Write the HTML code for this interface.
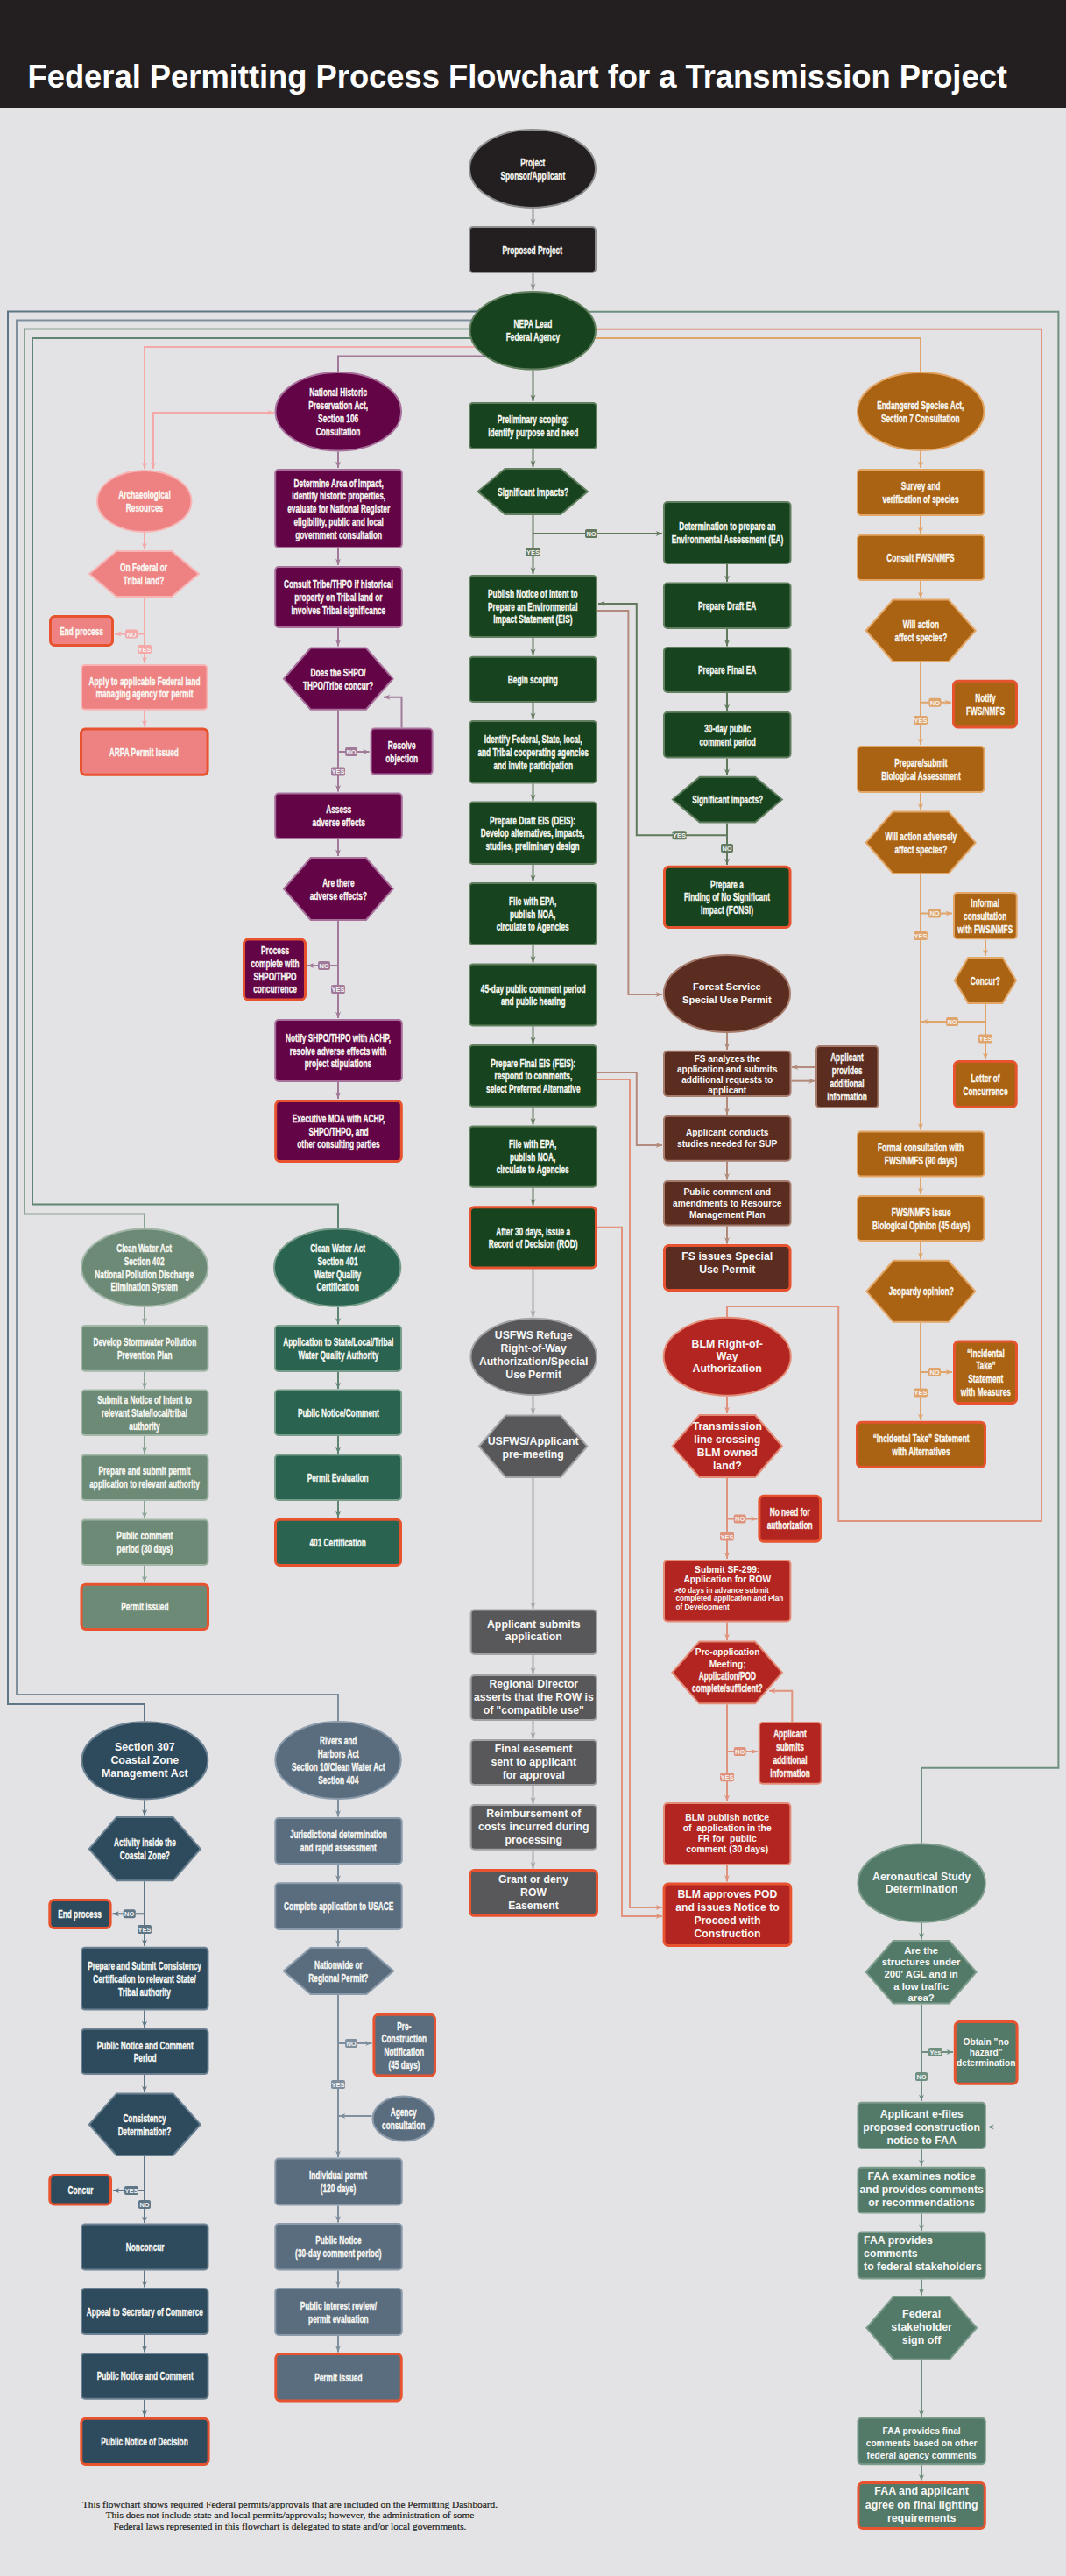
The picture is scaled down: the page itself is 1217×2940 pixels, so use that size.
<!DOCTYPE html>
<html><head><meta charset="utf-8"><style>
html,body{margin:0;padding:0;}
body{width:1217px;height:2940px;background:#e3e3e5;position:relative;overflow:hidden;font-family:"Liberation Sans",sans-serif;}
#hdr{position:absolute;left:0;top:0;width:1217px;height:123px;background:#231f20;}
#ttl{position:absolute;left:31.5px;top:68px;font-size:36.35px;font-weight:bold;color:#fff;white-space:nowrap;line-height:40px;letter-spacing:0px}
svg{position:absolute;left:0;top:0;}
.t{position:absolute;display:flex;align-items:center;white-space:nowrap;}
.c{font-family:"Liberation Sans",sans-serif;font-weight:bold;color:#fafaf5;transform:scaleX(0.69);text-align:center;-webkit-text-stroke:0.3px #fafaf5;}
.a{font-family:"Liberation Sans",sans-serif;font-weight:bold;color:#f7f7f7;}
.ar{display:inline-block;transform:scaleX(1.449);-webkit-text-stroke:0;font-family:"Liberation Sans",sans-serif;}
#foot{position:absolute;left:60px;width:542px;top:2852px;text-align:center;font-family:"Liberation Serif",serif;font-size:11.35px;line-height:12.3px;color:#231f20;-webkit-text-stroke:0.2px #231f20;}
</style></head><body>
<div id="hdr"><div id="ttl">Federal Permitting Process Flowchart for a Transmission Project</div></div>
<svg width="1217" height="2940" viewBox="0 0 1217 2940">
<path d="M608.5,238 L608.5,257" fill="none" stroke="#8e8e8e" stroke-width="2"/><path d="M608.5,312 L608.5,331" fill="none" stroke="#8e8e8e" stroke-width="2"/><path d="M608.5,355.5 L9,355.5 L9,1945 L165,1945 L165,1964" fill="none" stroke="#5f7686" stroke-width="2"/><path d="M608.5,365.5 L19,365.5 L19,1934 L386,1934 L386,1964" fill="none" stroke="#7f8f9d" stroke-width="2"/><path d="M608.5,375.6 L28,375.6 L28,1385.6 L165,1385.6 L165,1401" fill="none" stroke="#8aa394" stroke-width="2"/><path d="M608.5,386 L37,386 L37,1374.4 L386,1374.4 L386,1401" fill="none" stroke="#5f8575" stroke-width="2"/><path d="M608.5,396 L165,396 L165,535" fill="none" stroke="#f4a8a8" stroke-width="2"/><path d="M608.5,406.4 L386,406.4 L386,424" fill="none" stroke="#a07a98" stroke-width="2"/><path d="M175,535 L175,471 L313,471" fill="none" stroke="#f4a8a8" stroke-width="2"/><path d="M608.5,355.8 L1208.4,355.8 L1208.4,2017.8 L1052,2017.8 L1052,2103.5" fill="none" stroke="#6f8f80" stroke-width="2"/><path d="M608.5,375.7 L1189,375.7 L1189,1736 L957.2,1736 L957.2,1491 L830,1491 L830,1503" fill="none" stroke="#e0937d" stroke-width="2"/><path d="M608.5,386 L1051,386 L1051,424" fill="none" stroke="#dfa56c" stroke-width="2"/><path d="M608.5,422.5 L608.5,458" fill="none" stroke="#62795e" stroke-width="2"/><path d="M608.5,513 L608.5,533" fill="none" stroke="#62795e" stroke-width="2"/><path d="M608.5,588 L608.5,655" fill="none" stroke="#62795e" stroke-width="2"/><path d="M608.5,609 L756,609" fill="none" stroke="#62795e" stroke-width="2"/><path d="M608.5,728 L608.5,748" fill="none" stroke="#62795e" stroke-width="2"/><path d="M608.5,802 L608.5,821" fill="none" stroke="#62795e" stroke-width="2"/><path d="M608.5,894.4 L608.5,914" fill="none" stroke="#62795e" stroke-width="2"/><path d="M608.5,987 L608.5,1006" fill="none" stroke="#62795e" stroke-width="2"/><path d="M608.5,1079 L608.5,1098.5" fill="none" stroke="#62795e" stroke-width="2"/><path d="M608.5,1171.4 L608.5,1191" fill="none" stroke="#62795e" stroke-width="2"/><path d="M608.5,1263.7 L608.5,1283.5" fill="none" stroke="#62795e" stroke-width="2"/><path d="M608.5,1355.7 L608.5,1375.5" fill="none" stroke="#62795e" stroke-width="2"/><path d="M608.5,1448.5 L608.5,1503" fill="none" stroke="#a5a5a7" stroke-width="2"/><path d="M830,644 L830,664" fill="none" stroke="#62795e" stroke-width="2"/><path d="M830,718 L830,737.5" fill="none" stroke="#62795e" stroke-width="2"/><path d="M830,791 L830,811" fill="none" stroke="#62795e" stroke-width="2"/><path d="M830,865.5 L830,885" fill="none" stroke="#62795e" stroke-width="2"/><path d="M830,939.4 L830,987" fill="none" stroke="#62795e" stroke-width="2"/><path d="M830,953.3 L726.8,953.3 L726.8,689 L683,689" fill="none" stroke="#62795e" stroke-width="2"/><path d="M682,697 L717.4,697 L717.4,1135 L756,1135" fill="none" stroke="#b38b7c" stroke-width="2"/><path d="M682,1224 L726.8,1224 L726.8,1307 L756,1307" fill="none" stroke="#b38b7c" stroke-width="2"/><path d="M682,1232 L719,1232 L719,2177 L756,2177" fill="none" stroke="#e0937d" stroke-width="2"/><path d="M682,1400.7 L710,1400.7 L710,2187 L756,2187" fill="none" stroke="#e0937d" stroke-width="2"/><path d="M386,515.6 L386,534" fill="none" stroke="#a07a98" stroke-width="2"/><path d="M386,626 L386,645" fill="none" stroke="#a07a98" stroke-width="2"/><path d="M386,717 L386,737.5" fill="none" stroke="#a07a98" stroke-width="2"/><path d="M386,810.7 L386,903.5" fill="none" stroke="#a07a98" stroke-width="2"/><path d="M386,858 L421.5,858" fill="none" stroke="#a07a98" stroke-width="2"/><path d="M458.5,830.6 L458.5,795.7 L438,795.7" fill="none" stroke="#a07a98" stroke-width="2"/><path d="M386,958 L386,977" fill="none" stroke="#a07a98" stroke-width="2"/><path d="M386,1051 L386,1162" fill="none" stroke="#a07a98" stroke-width="2"/><path d="M386,1102 L351,1102" fill="none" stroke="#a07a98" stroke-width="2"/><path d="M386,1235 L386,1254" fill="none" stroke="#a07a98" stroke-width="2"/><path d="M165,608 L165,627" fill="none" stroke="#f4a8a8" stroke-width="2"/><path d="M165,682 L165,757" fill="none" stroke="#f4a8a8" stroke-width="2"/><path d="M165,723.6 L131,723.6" fill="none" stroke="#f4a8a8" stroke-width="2"/><path d="M165,810.7 L165,829.6" fill="none" stroke="#f4a8a8" stroke-width="2"/><path d="M1051,515 L1051,534" fill="none" stroke="#dfa56c" stroke-width="2"/><path d="M1051,589 L1051,609" fill="none" stroke="#dfa56c" stroke-width="2"/><path d="M1051,663 L1051,683" fill="none" stroke="#dfa56c" stroke-width="2"/><path d="M1051,756 L1051,850" fill="none" stroke="#dfa56c" stroke-width="2"/><path d="M1051,801.7 L1086,801.7" fill="none" stroke="#dfa56c" stroke-width="2"/><path d="M1051,905 L1051,924.5" fill="none" stroke="#dfa56c" stroke-width="2"/><path d="M1051,998 L1051,1289.5" fill="none" stroke="#dfa56c" stroke-width="2"/><path d="M1051,1042.5 L1087,1042.5" fill="none" stroke="#dfa56c" stroke-width="2"/><path d="M1125,1072.3 L1125,1091" fill="none" stroke="#dfa56c" stroke-width="2"/><path d="M1125,1146 L1125,1209" fill="none" stroke="#dfa56c" stroke-width="2"/><path d="M1125,1166 L1052,1166" fill="none" stroke="#dfa56c" stroke-width="2"/><path d="M1051,1343.4 L1051,1363" fill="none" stroke="#dfa56c" stroke-width="2"/><path d="M1051,1417 L1051,1437" fill="none" stroke="#dfa56c" stroke-width="2"/><path d="M1051,1509.8 L1051,1621" fill="none" stroke="#dfa56c" stroke-width="2"/><path d="M1051,1566 L1087,1566" fill="none" stroke="#dfa56c" stroke-width="2"/><path d="M830,1179 L830,1198" fill="none" stroke="#b38b7c" stroke-width="2"/><path d="M931,1218 L904,1218" fill="none" stroke="#b38b7c" stroke-width="2"/><path d="M903.5,1233.7 L930.5,1233.7" fill="none" stroke="#b38b7c" stroke-width="2"/><path d="M830,1252 L830,1272" fill="none" stroke="#b38b7c" stroke-width="2"/><path d="M830,1325.7 L830,1346.5" fill="none" stroke="#b38b7c" stroke-width="2"/><path d="M830,1399.6 L830,1419.5" fill="none" stroke="#b38b7c" stroke-width="2"/><path d="M830,1593.7 L830,1613" fill="none" stroke="#e0937d" stroke-width="2"/><path d="M830,1687 L830,1779" fill="none" stroke="#e0937d" stroke-width="2"/><path d="M830,1733.5 L864.5,1733.5" fill="none" stroke="#e0937d" stroke-width="2"/><path d="M830,1851.5 L830,1872" fill="none" stroke="#e0937d" stroke-width="2"/><path d="M830,1945.3 L830,2056" fill="none" stroke="#e0937d" stroke-width="2"/><path d="M830,1999 L865,1999" fill="none" stroke="#e0937d" stroke-width="2"/><path d="M904.3,1965 L904.3,1929.8 L878,1929.8" fill="none" stroke="#e0937d" stroke-width="2"/><path d="M830,2129 L830,2147.5" fill="none" stroke="#e0937d" stroke-width="2"/><path d="M608.5,1593 L608.5,1614" fill="none" stroke="#a5a5a7" stroke-width="2"/><path d="M608.5,1687 L608.5,1836" fill="none" stroke="#a5a5a7" stroke-width="2"/><path d="M608.5,1889 L608.5,1910.5" fill="none" stroke="#a5a5a7" stroke-width="2"/><path d="M608.5,1964 L608.5,1984.5" fill="none" stroke="#a5a5a7" stroke-width="2"/><path d="M608.5,2038 L608.5,2058.5" fill="none" stroke="#a5a5a7" stroke-width="2"/><path d="M608.5,2111.8 L608.5,2132.5" fill="none" stroke="#a5a5a7" stroke-width="2"/><path d="M165,1491.8 L165,1511.5" fill="none" stroke="#8aa394" stroke-width="2"/><path d="M165,1565.8 L165,1585" fill="none" stroke="#8aa394" stroke-width="2"/><path d="M165,1639 L165,1659" fill="none" stroke="#8aa394" stroke-width="2"/><path d="M165,1713 L165,1733" fill="none" stroke="#8aa394" stroke-width="2"/><path d="M165,1787 L165,1806" fill="none" stroke="#8aa394" stroke-width="2"/><path d="M386,1491.8 L386,1511.5" fill="none" stroke="#5f8575" stroke-width="2"/><path d="M386,1566 L386,1585" fill="none" stroke="#5f8575" stroke-width="2"/><path d="M386,1639 L386,1659" fill="none" stroke="#5f8575" stroke-width="2"/><path d="M386,1713 L386,1732" fill="none" stroke="#5f8575" stroke-width="2"/><path d="M165,2054.4 L165,2072.5" fill="none" stroke="#5f7686" stroke-width="2"/><path d="M165,2147.3 L165,2221" fill="none" stroke="#5f7686" stroke-width="2"/><path d="M165,2184.3 L128.5,2184.3" fill="none" stroke="#5f7686" stroke-width="2"/><path d="M165,2294.6 L165,2314" fill="none" stroke="#5f7686" stroke-width="2"/><path d="M165,2368 L165,2388" fill="none" stroke="#5f7686" stroke-width="2"/><path d="M165,2461 L165,2537" fill="none" stroke="#5f7686" stroke-width="2"/><path d="M165,2500 L129,2500" fill="none" stroke="#5f7686" stroke-width="2"/><path d="M165,2591.5 L165,2610.5" fill="none" stroke="#5f7686" stroke-width="2"/><path d="M165,2665 L165,2684.5" fill="none" stroke="#5f7686" stroke-width="2"/><path d="M165,2738.7 L165,2758" fill="none" stroke="#5f7686" stroke-width="2"/><path d="M386,2054 L386,2073.5" fill="none" stroke="#7f8f9d" stroke-width="2"/><path d="M386,2128 L386,2147.5" fill="none" stroke="#7f8f9d" stroke-width="2"/><path d="M386,2203 L386,2221.5" fill="none" stroke="#7f8f9d" stroke-width="2"/><path d="M386,2277 L386,2462" fill="none" stroke="#7f8f9d" stroke-width="2"/><path d="M386,2332 L424.5,2332" fill="none" stroke="#7f8f9d" stroke-width="2"/><path d="M424.5,2415 L387,2415" fill="none" stroke="#7f8f9d" stroke-width="2"/><path d="M386,2517.4 L386,2536.5" fill="none" stroke="#7f8f9d" stroke-width="2"/><path d="M386,2591.5 L386,2610.5" fill="none" stroke="#7f8f9d" stroke-width="2"/><path d="M386,2666 L386,2684.5" fill="none" stroke="#7f8f9d" stroke-width="2"/><path d="M1052,2194.8 L1052,2213.5" fill="none" stroke="#6f8f80" stroke-width="2"/><path d="M1052,2287.5 L1052,2398" fill="none" stroke="#6f8f80" stroke-width="2"/><path d="M1052,2342 L1088,2342" fill="none" stroke="#6f8f80" stroke-width="2"/><path d="M1052,2452.9 L1052,2472.3" fill="none" stroke="#6f8f80" stroke-width="2"/><path d="M1052,2526.6 L1052,2546" fill="none" stroke="#6f8f80" stroke-width="2"/><path d="M1052,2601.5 L1052,2619.5" fill="none" stroke="#6f8f80" stroke-width="2"/><path d="M1052,2693.7 L1052,2758" fill="none" stroke="#6f8f80" stroke-width="2"/><path d="M1052,2813.2 L1052,2831.5" fill="none" stroke="#6f8f80" stroke-width="2"/>
<ellipse cx="608" cy="192.5" rx="72" ry="44.5" fill="#231f20" stroke="#8e8e8e" stroke-width="2.0"/><rect x="536" y="259" width="144" height="52" rx="4" fill="#231f20" stroke="#8e8e8e" stroke-width="2.0"/><ellipse cx="608.25" cy="377.25" rx="71.75" ry="44.25" fill="#17441f" stroke="#62805f" stroke-width="2.0"/><rect x="536" y="460" width="145" height="52" rx="4" fill="#17441f" stroke="#62805f" stroke-width="2.0"/><polygon points="545.6,561 576.45,535 640.15,535 671,561 640.15,587 576.45,587" fill="#17441f" stroke="#62805f" stroke-width="2.0"/><rect x="536" y="657" width="145" height="70" rx="4" fill="#17441f" stroke="#62805f" stroke-width="2.0"/><rect x="536" y="749.8" width="145" height="51.2" rx="4" fill="#17441f" stroke="#62805f" stroke-width="2.0"/><rect x="536" y="823" width="145" height="70.4" rx="4" fill="#17441f" stroke="#62805f" stroke-width="2.0"/><rect x="536" y="915.6" width="145" height="70.4" rx="4" fill="#17441f" stroke="#62805f" stroke-width="2.0"/><rect x="536" y="1008" width="145" height="70" rx="4" fill="#17441f" stroke="#62805f" stroke-width="2.0"/><rect x="536" y="1100.4" width="145" height="70" rx="4" fill="#17441f" stroke="#62805f" stroke-width="2.0"/><rect x="536" y="1193" width="145" height="69.7" rx="4" fill="#17441f" stroke="#62805f" stroke-width="2.0"/><rect x="536" y="1285.4" width="145" height="69.3" rx="4" fill="#17441f" stroke="#62805f" stroke-width="2.0"/><rect x="536.5" y="1377.8" width="144" height="69.2" rx="5" fill="#17441f" stroke="#e8532f" stroke-width="3.0"/><rect x="758" y="573" width="144.5" height="70" rx="4" fill="#17441f" stroke="#62805f" stroke-width="2.0"/><rect x="758" y="665.6" width="144.5" height="51.4" rx="4" fill="#17441f" stroke="#62805f" stroke-width="2.0"/><rect x="758" y="739" width="144.5" height="51" rx="4" fill="#17441f" stroke="#62805f" stroke-width="2.0"/><rect x="758" y="812.8" width="144.5" height="51.7" rx="4" fill="#17441f" stroke="#62805f" stroke-width="2.0"/><polygon points="768,912.55 798.7,886.7 862.1,886.7 892.8,912.55 862.1,938.4 798.7,938.4" fill="#17441f" stroke="#62805f" stroke-width="2.0"/><rect x="758.5" y="989.3" width="143.5" height="69.2" rx="5" fill="#17441f" stroke="#e8532f" stroke-width="3.0"/><ellipse cx="386.25" cy="469.8" rx="71.75" ry="44.8" fill="#630446" stroke="#a8719c" stroke-width="2.0"/><rect x="314.2" y="536" width="144.6" height="89" rx="4" fill="#630446" stroke="#a8719c" stroke-width="2.0"/><rect x="314.2" y="647" width="144.6" height="69" rx="4" fill="#630446" stroke="#a8719c" stroke-width="2.0"/><polygon points="324,774.65 354.65,739.6 417.95,739.6 448.6,774.65 417.95,809.7 354.65,809.7" fill="#630446" stroke="#a8719c" stroke-width="2.0"/><rect x="423.6" y="831.6" width="70" height="52" rx="4" fill="#630446" stroke="#a8719c" stroke-width="2.0"/><rect x="314.2" y="905.5" width="144.6" height="51.5" rx="4" fill="#630446" stroke="#a8719c" stroke-width="2.0"/><polygon points="324,1014.5 354.65,979 417.95,979 448.6,1014.5 417.95,1050 354.65,1050" fill="#630446" stroke="#a8719c" stroke-width="2.0"/><rect x="278.5" y="1072" width="70" height="69" rx="5" fill="#630446" stroke="#e8532f" stroke-width="3.0"/><rect x="314.2" y="1164" width="144.6" height="70" rx="4" fill="#630446" stroke="#a8719c" stroke-width="2.0"/><rect x="314.7" y="1256.5" width="143.6" height="69" rx="5" fill="#630446" stroke="#e8532f" stroke-width="3.0"/><ellipse cx="164.75" cy="572" rx="53.75" ry="35" fill="#ee8283" stroke="#f7b5b5" stroke-width="2.0"/><polygon points="102,655 133,629 196,629 227,655 196,681 133,681" fill="#ee8283" stroke="#f7b5b5" stroke-width="2.0"/><rect x="57.5" y="703.5" width="71" height="33" rx="5" fill="#ee8283" stroke="#e8532f" stroke-width="3.0"/><rect x="93" y="759" width="143.5" height="50.7" rx="4" fill="#ee8283" stroke="#f7b5b5" stroke-width="2.0"/><rect x="92.5" y="832.1" width="144.6" height="52.1" rx="5" fill="#ee8283" stroke="#e8532f" stroke-width="3.0"/><ellipse cx="1051.25" cy="469.5" rx="72.25" ry="44.5" fill="#aa6213" stroke="#e2a667" stroke-width="2.0"/><rect x="979" y="536" width="144.5" height="52" rx="4" fill="#aa6213" stroke="#e2a667" stroke-width="2.0"/><rect x="979" y="610.7" width="144.5" height="51.3" rx="4" fill="#aa6213" stroke="#e2a667" stroke-width="2.0"/><polygon points="988.7,719.75 1019.45,684.5 1082.95,684.5 1113.7,719.75 1082.95,755 1019.45,755" fill="#aa6213" stroke="#e2a667" stroke-width="2.0"/><rect x="1088.5" y="777.3" width="72" height="52.6" rx="5" fill="#aa6213" stroke="#e8532f" stroke-width="3.0"/><rect x="979" y="852" width="144.5" height="52" rx="4" fill="#aa6213" stroke="#e2a667" stroke-width="2.0"/><polygon points="988.7,961.7 1019.45,926.4 1082.95,926.4 1113.7,961.7 1082.95,997 1019.45,997" fill="#aa6213" stroke="#e2a667" stroke-width="2.0"/><rect x="1089" y="1019" width="71.7" height="52.3" rx="4" fill="#aa6213" stroke="#e2a667" stroke-width="2.0"/><polygon points="1089.8,1119 1105.3,1093 1144.5,1093 1160,1119 1144.5,1145 1105.3,1145" fill="#aa6213" stroke="#e2a667" stroke-width="2.0"/><rect x="1089.5" y="1211.5" width="70.7" height="52" rx="5" fill="#aa6213" stroke="#e8532f" stroke-width="3.0"/><rect x="979" y="1291.4" width="144.5" height="51" rx="4" fill="#aa6213" stroke="#e2a667" stroke-width="2.0"/><rect x="979" y="1365" width="144.5" height="51" rx="4" fill="#aa6213" stroke="#e2a667" stroke-width="2.0"/><polygon points="989.3,1473.8 1019.8,1438.8 1082.8,1438.8 1113.3,1473.8 1082.8,1508.8 1019.8,1508.8" fill="#aa6213" stroke="#e2a667" stroke-width="2.0"/><rect x="1089.5" y="1531" width="71" height="70.5" rx="5" fill="#aa6213" stroke="#e8532f" stroke-width="3.0"/><rect x="978.5" y="1623.2" width="146" height="51.3" rx="5" fill="#aa6213" stroke="#e8532f" stroke-width="3.0"/><ellipse cx="829.9" cy="1134" rx="72.1" ry="44" fill="#5b2d21" stroke="#a67c6d" stroke-width="2.0"/><rect x="758" y="1199.8" width="144.5" height="51.2" rx="4" fill="#5b2d21" stroke="#a67c6d" stroke-width="2.0"/><rect x="932" y="1194" width="70.5" height="70" rx="4" fill="#5b2d21" stroke="#a67c6d" stroke-width="2.0"/><rect x="758" y="1273.8" width="144.5" height="50.9" rx="4" fill="#5b2d21" stroke="#a67c6d" stroke-width="2.0"/><rect x="758" y="1348" width="144.5" height="50.6" rx="4" fill="#5b2d21" stroke="#a67c6d" stroke-width="2.0"/><rect x="758.5" y="1421.5" width="143.5" height="51" rx="5" fill="#5b2d21" stroke="#e8532f" stroke-width="3.0"/><ellipse cx="830.2" cy="1548.25" rx="72.6" ry="44.45" fill="#b32521" stroke="#e48c78" stroke-width="2.0"/><polygon points="767.6,1650.5 798.45,1615 862.15,1615 893,1650.5 862.15,1686 798.45,1686" fill="#b32521" stroke="#e48c78" stroke-width="2.0"/><rect x="866.9" y="1707.3" width="69.6" height="51.9" rx="5" fill="#b32521" stroke="#e8532f" stroke-width="3.0"/><rect x="758" y="1781" width="144.4" height="69.5" rx="4" fill="#b32521" stroke="#e48c78" stroke-width="2.0"/><polygon points="767.4,1908.95 798.3,1873.6 862.1,1873.6 893,1908.95 862.1,1944.3 798.3,1944.3" fill="#b32521" stroke="#e48c78" stroke-width="2.0"/><rect x="866.8" y="1966" width="70.8" height="69.7" rx="4" fill="#b32521" stroke="#e48c78" stroke-width="2.0"/><rect x="758" y="2058" width="144.4" height="70" rx="4" fill="#b32521" stroke="#e48c78" stroke-width="2.0"/><rect x="758.1" y="2149.9" width="144.7" height="70.6" rx="5" fill="#b32521" stroke="#e8532f" stroke-width="3.0"/><ellipse cx="609.2" cy="1548.4" rx="71.8" ry="43.6" fill="#58585a" stroke="#a3a3a5" stroke-width="2.0"/><polygon points="546.8,1650.75 577.22,1615.5 640.08,1615.5 670.5,1650.75 640.08,1686 577.22,1686" fill="#58585a" stroke="#a3a3a5" stroke-width="2.0"/><rect x="537.6" y="1837.5" width="143.4" height="50.5" rx="4" fill="#58585a" stroke="#a3a3a5" stroke-width="2.0"/><rect x="537.6" y="1912" width="143.4" height="51" rx="4" fill="#58585a" stroke="#a3a3a5" stroke-width="2.0"/><rect x="537.6" y="1986" width="143.4" height="51" rx="4" fill="#58585a" stroke="#a3a3a5" stroke-width="2.0"/><rect x="537.6" y="2060" width="143.4" height="50.8" rx="4" fill="#58585a" stroke="#a3a3a5" stroke-width="2.0"/><rect x="536.5" y="2134.5" width="145" height="51.8" rx="5" fill="#58585a" stroke="#e8532f" stroke-width="3.0"/><ellipse cx="165.15" cy="1446.6" rx="72.15" ry="44.2" fill="#6d8a77" stroke="#a3b7a8" stroke-width="2.0"/><rect x="93" y="1513" width="144.5" height="51.8" rx="4" fill="#6d8a77" stroke="#a3b7a8" stroke-width="2.0"/><rect x="93" y="1586.6" width="144.5" height="51.4" rx="4" fill="#6d8a77" stroke="#a3b7a8" stroke-width="2.0"/><rect x="93" y="1660.6" width="144.5" height="51.4" rx="4" fill="#6d8a77" stroke="#a3b7a8" stroke-width="2.0"/><rect x="93" y="1734.5" width="144.5" height="51.5" rx="4" fill="#6d8a77" stroke="#a3b7a8" stroke-width="2.0"/><rect x="93" y="1808.2" width="144.5" height="51.3" rx="5" fill="#6d8a77" stroke="#e8532f" stroke-width="3.0"/><ellipse cx="385.15" cy="1446.6" rx="72.15" ry="44.2" fill="#2a6350" stroke="#789d8b" stroke-width="2.0"/><rect x="314" y="1513" width="144" height="52" rx="4" fill="#2a6350" stroke="#789d8b" stroke-width="2.0"/><rect x="314" y="1586.6" width="144" height="51.4" rx="4" fill="#2a6350" stroke="#789d8b" stroke-width="2.0"/><rect x="314" y="1660.6" width="144" height="51.4" rx="4" fill="#2a6350" stroke="#789d8b" stroke-width="2.0"/><rect x="314.5" y="1734.2" width="143" height="52.3" rx="5" fill="#2a6350" stroke="#e8532f" stroke-width="3.0"/><ellipse cx="165.35" cy="2009.35" rx="71.95" ry="44.05" fill="#2e4a5d" stroke="#6b8191" stroke-width="2.0"/><polygon points="101.8,2110.15 133.05,2074 197.55,2074 228.8,2110.15 197.55,2146.3 133.05,2146.3" fill="#2e4a5d" stroke="#6b8191" stroke-width="2.0"/><rect x="56.8" y="2168.5" width="69.3" height="32" rx="5" fill="#2e4a5d" stroke="#e8532f" stroke-width="3.0"/><rect x="93" y="2222.8" width="144.5" height="70.8" rx="4" fill="#2e4a5d" stroke="#6b8191" stroke-width="2.0"/><rect x="93" y="2315.7" width="144.5" height="51.3" rx="4" fill="#2e4a5d" stroke="#6b8191" stroke-width="2.0"/><polygon points="101.8,2424.7 133.05,2389.4 197.55,2389.4 228.8,2424.7 197.55,2460 133.05,2460" fill="#2e4a5d" stroke="#6b8191" stroke-width="2.0"/><rect x="56.8" y="2482.5" width="69.7" height="33.4" rx="5" fill="#2e4a5d" stroke="#e8532f" stroke-width="3.0"/><rect x="93" y="2538.5" width="144.5" height="52" rx="4" fill="#2e4a5d" stroke="#6b8191" stroke-width="2.0"/><rect x="93" y="2612" width="144.5" height="52" rx="4" fill="#2e4a5d" stroke="#6b8191" stroke-width="2.0"/><rect x="93" y="2686" width="144.5" height="51.7" rx="4" fill="#2e4a5d" stroke="#6b8191" stroke-width="2.0"/><rect x="92.8" y="2760.3" width="145.3" height="52.2" rx="5" fill="#2e4a5d" stroke="#e8532f" stroke-width="3.0"/><ellipse cx="386" cy="2009" rx="71.7" ry="44" fill="#5a6d7f" stroke="#8b9bab" stroke-width="2.0"/><rect x="314.3" y="2075" width="144.4" height="52" rx="4" fill="#5a6d7f" stroke="#8b9bab" stroke-width="2.0"/><rect x="314.3" y="2149.2" width="144.4" height="52.8" rx="4" fill="#5a6d7f" stroke="#8b9bab" stroke-width="2.0"/><polygon points="323.7,2249.5 354.6,2223 418.4,2223 449.3,2249.5 418.4,2276 354.6,2276" fill="#5a6d7f" stroke="#8b9bab" stroke-width="2.0"/><rect x="426.9" y="2299.3" width="69.6" height="69.7" rx="5" fill="#5a6d7f" stroke="#e8532f" stroke-width="3.0"/><ellipse cx="460.75" cy="2418.1" rx="35.25" ry="25.5" fill="#5a6d7f" stroke="#8b9bab" stroke-width="2.0"/><rect x="314.3" y="2463.5" width="144.4" height="52.9" rx="4" fill="#5a6d7f" stroke="#8b9bab" stroke-width="2.0"/><rect x="314.3" y="2538" width="144.4" height="52.5" rx="4" fill="#5a6d7f" stroke="#8b9bab" stroke-width="2.0"/><rect x="314.3" y="2612" width="144.4" height="53" rx="4" fill="#5a6d7f" stroke="#8b9bab" stroke-width="2.0"/><rect x="314.8" y="2686.5" width="143.4" height="53.5" rx="5" fill="#5a6d7f" stroke="#e8532f" stroke-width="3.0"/><ellipse cx="1052.15" cy="2149.15" rx="72.65" ry="44.65" fill="#537968" stroke="#7f9d8d" stroke-width="2.0"/><polygon points="988.7,2250.75 1019.67,2215 1083.62,2215 1114.6,2250.75 1083.62,2286.5 1019.67,2286.5" fill="#537968" stroke="#7f9d8d" stroke-width="2.0"/><rect x="1090.3" y="2307.5" width="70.8" height="70.7" rx="5" fill="#537968" stroke="#e8532f" stroke-width="3.0"/><rect x="979.5" y="2399.7" width="145.3" height="52.2" rx="4" fill="#537968" stroke="#7f9d8d" stroke-width="2.0"/><rect x="979.5" y="2473.8" width="145.3" height="51.8" rx="4" fill="#537968" stroke="#7f9d8d" stroke-width="2.0"/><rect x="979.5" y="2547.5" width="145.3" height="53" rx="4" fill="#537968" stroke="#7f9d8d" stroke-width="2.0"/><polygon points="989.3,2656.85 1020.22,2621 1084.08,2621 1115,2656.85 1084.08,2692.7 1020.22,2692.7" fill="#537968" stroke="#7f9d8d" stroke-width="2.0"/><rect x="979.5" y="2759.5" width="145.3" height="52.7" rx="4" fill="#537968" stroke="#7f9d8d" stroke-width="2.0"/><rect x="980" y="2833.5" width="144.3" height="52" rx="5" fill="#537968" stroke="#e8532f" stroke-width="3.0"/>
<rect x="600.5" y="625" width="16" height="10" rx="2" fill="#62795e"/><text x="608.5" y="632.9" text-anchor="middle" font-family="Liberation Sans" font-weight="bold" font-size="7.5" fill="#f2f2f2">YES</text><rect x="668" y="604" width="14" height="10" rx="2" fill="#62795e"/><text x="675" y="611.9" text-anchor="middle" font-family="Liberation Sans" font-weight="bold" font-size="7.5" fill="#f2f2f2">NO</text><rect x="823" y="963" width="14" height="10" rx="2" fill="#62795e"/><text x="830" y="970.9" text-anchor="middle" font-family="Liberation Sans" font-weight="bold" font-size="7.5" fill="#f2f2f2">NO</text><rect x="767.6" y="948.3" width="16" height="10" rx="2" fill="#62795e"/><text x="775.6" y="956.2" text-anchor="middle" font-family="Liberation Sans" font-weight="bold" font-size="7.5" fill="#f2f2f2">YES</text><rect x="378" y="875.5" width="16" height="10" rx="2" fill="#a07a98"/><text x="386" y="883.4" text-anchor="middle" font-family="Liberation Sans" font-weight="bold" font-size="7.5" fill="#f2f2f2">YES</text><rect x="394" y="853" width="14" height="10" rx="2" fill="#a07a98"/><text x="401" y="860.9" text-anchor="middle" font-family="Liberation Sans" font-weight="bold" font-size="7.5" fill="#f2f2f2">NO</text><rect x="378" y="1124" width="16" height="10" rx="2" fill="#a07a98"/><text x="386" y="1131.9" text-anchor="middle" font-family="Liberation Sans" font-weight="bold" font-size="7.5" fill="#f2f2f2">YES</text><rect x="363" y="1097" width="14" height="10" rx="2" fill="#a07a98"/><text x="370" y="1104.9" text-anchor="middle" font-family="Liberation Sans" font-weight="bold" font-size="7.5" fill="#f2f2f2">NO</text><rect x="157" y="736" width="16" height="10" rx="2" fill="#f4a8a8"/><text x="165" y="743.9" text-anchor="middle" font-family="Liberation Sans" font-weight="bold" font-size="7.5" fill="#f2f2f2">YES</text><rect x="143" y="718.6" width="14" height="10" rx="2" fill="#f4a8a8"/><text x="150" y="726.5" text-anchor="middle" font-family="Liberation Sans" font-weight="bold" font-size="7.5" fill="#f2f2f2">NO</text><rect x="1043" y="817" width="16" height="10" rx="2" fill="#dfa56c"/><text x="1051" y="824.9" text-anchor="middle" font-family="Liberation Sans" font-weight="bold" font-size="7.5" fill="#f2f2f2">YES</text><rect x="1060.4" y="796.7" width="14" height="10" rx="2" fill="#dfa56c"/><text x="1067.4" y="804.6" text-anchor="middle" font-family="Liberation Sans" font-weight="bold" font-size="7.5" fill="#f2f2f2">NO</text><rect x="1043" y="1063" width="16" height="10" rx="2" fill="#dfa56c"/><text x="1051" y="1070.9" text-anchor="middle" font-family="Liberation Sans" font-weight="bold" font-size="7.5" fill="#f2f2f2">YES</text><rect x="1060" y="1037.5" width="14" height="10" rx="2" fill="#dfa56c"/><text x="1067" y="1045.4" text-anchor="middle" font-family="Liberation Sans" font-weight="bold" font-size="7.5" fill="#f2f2f2">NO</text><rect x="1117" y="1180.5" width="16" height="10" rx="2" fill="#dfa56c"/><text x="1125" y="1188.4" text-anchor="middle" font-family="Liberation Sans" font-weight="bold" font-size="7.5" fill="#f2f2f2">YES</text><rect x="1080" y="1161" width="14" height="10" rx="2" fill="#dfa56c"/><text x="1087" y="1168.9" text-anchor="middle" font-family="Liberation Sans" font-weight="bold" font-size="7.5" fill="#f2f2f2">NO</text><rect x="1043" y="1584.4" width="16" height="10" rx="2" fill="#dfa56c"/><text x="1051" y="1592.3" text-anchor="middle" font-family="Liberation Sans" font-weight="bold" font-size="7.5" fill="#f2f2f2">YES</text><rect x="1060" y="1561" width="14" height="10" rx="2" fill="#dfa56c"/><text x="1067" y="1568.9" text-anchor="middle" font-family="Liberation Sans" font-weight="bold" font-size="7.5" fill="#f2f2f2">NO</text><rect x="822" y="1748.6" width="16" height="10" rx="2" fill="#e0937d"/><text x="830" y="1756.5" text-anchor="middle" font-family="Liberation Sans" font-weight="bold" font-size="7.5" fill="#f2f2f2">YES</text><rect x="837.7" y="1728.5" width="14" height="10" rx="2" fill="#e0937d"/><text x="844.7" y="1736.4" text-anchor="middle" font-family="Liberation Sans" font-weight="bold" font-size="7.5" fill="#f2f2f2">NO</text><rect x="822" y="2023.3" width="16" height="10" rx="2" fill="#e0937d"/><text x="830" y="2031.2" text-anchor="middle" font-family="Liberation Sans" font-weight="bold" font-size="7.5" fill="#f2f2f2">YES</text><rect x="837.7" y="1994" width="14" height="10" rx="2" fill="#e0937d"/><text x="844.7" y="2001.9" text-anchor="middle" font-family="Liberation Sans" font-weight="bold" font-size="7.5" fill="#f2f2f2">NO</text><rect x="157" y="2197" width="16" height="10" rx="2" fill="#5f7686"/><text x="165" y="2204.9" text-anchor="middle" font-family="Liberation Sans" font-weight="bold" font-size="7.5" fill="#f2f2f2">YES</text><rect x="140.7" y="2179.3" width="14" height="10" rx="2" fill="#5f7686"/><text x="147.7" y="2187.2" text-anchor="middle" font-family="Liberation Sans" font-weight="bold" font-size="7.5" fill="#f2f2f2">NO</text><rect x="158" y="2511" width="14" height="10" rx="2" fill="#5f7686"/><text x="165" y="2518.9" text-anchor="middle" font-family="Liberation Sans" font-weight="bold" font-size="7.5" fill="#f2f2f2">NO</text><rect x="142" y="2495" width="16" height="10" rx="2" fill="#5f7686"/><text x="150" y="2502.9" text-anchor="middle" font-family="Liberation Sans" font-weight="bold" font-size="7.5" fill="#f2f2f2">YES</text><rect x="378" y="2374" width="16" height="10" rx="2" fill="#7f8f9d"/><text x="386" y="2381.9" text-anchor="middle" font-family="Liberation Sans" font-weight="bold" font-size="7.5" fill="#f2f2f2">YES</text><rect x="394" y="2327" width="14" height="10" rx="2" fill="#7f8f9d"/><text x="401" y="2334.9" text-anchor="middle" font-family="Liberation Sans" font-weight="bold" font-size="7.5" fill="#f2f2f2">NO</text><rect x="1045" y="2365" width="14" height="10" rx="2" fill="#6f8f80"/><text x="1052" y="2372.9" text-anchor="middle" font-family="Liberation Sans" font-weight="bold" font-size="7.5" fill="#f2f2f2">NO</text><rect x="1060" y="2337" width="16" height="10" rx="2" fill="#6f8f80"/><text x="1068" y="2344.9" text-anchor="middle" font-family="Liberation Sans" font-weight="bold" font-size="7.5" fill="#f2f2f2">Yes</text>
<path d="M608.5,257L605.5,249.5L608.5,252L611.5,249.5Z" fill="#8e8e8e"/><path d="M608.5,331L605.5,323.5L608.5,326L611.5,323.5Z" fill="#8e8e8e"/><path d="M165,535L162,527.5L165,530L168,527.5Z" fill="#f4a8a8"/><path d="M313,471L305.5,474L308,471L305.5,468Z" fill="#f4a8a8"/><path d="M175,535L172,527.5L175,530L178,527.5Z" fill="#f4a8a8"/><path d="M608.5,458L605.5,450.5L608.5,453L611.5,450.5Z" fill="#62795e"/><path d="M608.5,533L605.5,525.5L608.5,528L611.5,525.5Z" fill="#62795e"/><path d="M608.5,655L605.5,647.5L608.5,650L611.5,647.5Z" fill="#62795e"/><path d="M756,609L748.5,612L751,609L748.5,606Z" fill="#62795e"/><path d="M608.5,748L605.5,740.5L608.5,743L611.5,740.5Z" fill="#62795e"/><path d="M608.5,821L605.5,813.5L608.5,816L611.5,813.5Z" fill="#62795e"/><path d="M608.5,914L605.5,906.5L608.5,909L611.5,906.5Z" fill="#62795e"/><path d="M608.5,1006L605.5,998.5L608.5,1001L611.5,998.5Z" fill="#62795e"/><path d="M608.5,1098.5L605.5,1091L608.5,1093.5L611.5,1091Z" fill="#62795e"/><path d="M608.5,1191L605.5,1183.5L608.5,1186L611.5,1183.5Z" fill="#62795e"/><path d="M608.5,1283.5L605.5,1276L608.5,1278.5L611.5,1276Z" fill="#62795e"/><path d="M608.5,1375.5L605.5,1368L608.5,1370.5L611.5,1368Z" fill="#62795e"/><path d="M608.5,1503L605.5,1495.5L608.5,1498L611.5,1495.5Z" fill="#a5a5a7"/><path d="M830,664L827,656.5L830,659L833,656.5Z" fill="#62795e"/><path d="M830,737.5L827,730L830,732.5L833,730Z" fill="#62795e"/><path d="M830,811L827,803.5L830,806L833,803.5Z" fill="#62795e"/><path d="M830,885L827,877.5L830,880L833,877.5Z" fill="#62795e"/><path d="M830,987L827,979.5L830,982L833,979.5Z" fill="#62795e"/><path d="M683,689L690.5,686L688,689L690.5,692Z" fill="#62795e"/><path d="M756,1135L748.5,1138L751,1135L748.5,1132Z" fill="#b38b7c"/><path d="M756,1307L748.5,1310L751,1307L748.5,1304Z" fill="#b38b7c"/><path d="M756,2177L748.5,2180L751,2177L748.5,2174Z" fill="#e0937d"/><path d="M756,2187L748.5,2190L751,2187L748.5,2184Z" fill="#e0937d"/><path d="M386,534L383,526.5L386,529L389,526.5Z" fill="#a07a98"/><path d="M386,645L383,637.5L386,640L389,637.5Z" fill="#a07a98"/><path d="M386,737.5L383,730L386,732.5L389,730Z" fill="#a07a98"/><path d="M386,903.5L383,896L386,898.5L389,896Z" fill="#a07a98"/><path d="M421.5,858L414,861L416.5,858L414,855Z" fill="#a07a98"/><path d="M438,795.7L445.5,792.7L443,795.7L445.5,798.7Z" fill="#a07a98"/><path d="M386,977L383,969.5L386,972L389,969.5Z" fill="#a07a98"/><path d="M386,1162L383,1154.5L386,1157L389,1154.5Z" fill="#a07a98"/><path d="M351,1102L358.5,1099L356,1102L358.5,1105Z" fill="#a07a98"/><path d="M386,1254L383,1246.5L386,1249L389,1246.5Z" fill="#a07a98"/><path d="M165,627L162,619.5L165,622L168,619.5Z" fill="#f4a8a8"/><path d="M165,757L162,749.5L165,752L168,749.5Z" fill="#f4a8a8"/><path d="M131,723.6L138.5,720.6L136,723.6L138.5,726.6Z" fill="#f4a8a8"/><path d="M165,829.6L162,822.1L165,824.6L168,822.1Z" fill="#f4a8a8"/><path d="M1051,534L1048,526.5L1051,529L1054,526.5Z" fill="#dfa56c"/><path d="M1051,609L1048,601.5L1051,604L1054,601.5Z" fill="#dfa56c"/><path d="M1051,683L1048,675.5L1051,678L1054,675.5Z" fill="#dfa56c"/><path d="M1051,850L1048,842.5L1051,845L1054,842.5Z" fill="#dfa56c"/><path d="M1086,801.7L1078.5,804.7L1081,801.7L1078.5,798.7Z" fill="#dfa56c"/><path d="M1051,924.5L1048,917L1051,919.5L1054,917Z" fill="#dfa56c"/><path d="M1051,1289.5L1048,1282L1051,1284.5L1054,1282Z" fill="#dfa56c"/><path d="M1087,1042.5L1079.5,1045.5L1082,1042.5L1079.5,1039.5Z" fill="#dfa56c"/><path d="M1125,1091L1122,1083.5L1125,1086L1128,1083.5Z" fill="#dfa56c"/><path d="M1125,1209L1122,1201.5L1125,1204L1128,1201.5Z" fill="#dfa56c"/><path d="M1052,1166L1059.5,1163L1057,1166L1059.5,1169Z" fill="#dfa56c"/><path d="M1051,1363L1048,1355.5L1051,1358L1054,1355.5Z" fill="#dfa56c"/><path d="M1051,1437L1048,1429.5L1051,1432L1054,1429.5Z" fill="#dfa56c"/><path d="M1051,1621L1048,1613.5L1051,1616L1054,1613.5Z" fill="#dfa56c"/><path d="M1087,1566L1079.5,1569L1082,1566L1079.5,1563Z" fill="#dfa56c"/><path d="M830,1198L827,1190.5L830,1193L833,1190.5Z" fill="#b38b7c"/><path d="M904,1218L911.5,1215L909,1218L911.5,1221Z" fill="#b38b7c"/><path d="M930.5,1233.7L923,1236.7L925.5,1233.7L923,1230.7Z" fill="#b38b7c"/><path d="M830,1272L827,1264.5L830,1267L833,1264.5Z" fill="#b38b7c"/><path d="M830,1346.5L827,1339L830,1341.5L833,1339Z" fill="#b38b7c"/><path d="M830,1419.5L827,1412L830,1414.5L833,1412Z" fill="#b38b7c"/><path d="M830,1613L827,1605.5L830,1608L833,1605.5Z" fill="#e0937d"/><path d="M830,1779L827,1771.5L830,1774L833,1771.5Z" fill="#e0937d"/><path d="M864.5,1733.5L857,1736.5L859.5,1733.5L857,1730.5Z" fill="#e0937d"/><path d="M830,1872L827,1864.5L830,1867L833,1864.5Z" fill="#e0937d"/><path d="M830,2056L827,2048.5L830,2051L833,2048.5Z" fill="#e0937d"/><path d="M865,1999L857.5,2002L860,1999L857.5,1996Z" fill="#e0937d"/><path d="M878,1929.8L885.5,1926.8L883,1929.8L885.5,1932.8Z" fill="#e0937d"/><path d="M830,2147.5L827,2140L830,2142.5L833,2140Z" fill="#e0937d"/><path d="M608.5,1614L605.5,1606.5L608.5,1609L611.5,1606.5Z" fill="#a5a5a7"/><path d="M608.5,1836L605.5,1828.5L608.5,1831L611.5,1828.5Z" fill="#a5a5a7"/><path d="M608.5,1910.5L605.5,1903L608.5,1905.5L611.5,1903Z" fill="#a5a5a7"/><path d="M608.5,1984.5L605.5,1977L608.5,1979.5L611.5,1977Z" fill="#a5a5a7"/><path d="M608.5,2058.5L605.5,2051L608.5,2053.5L611.5,2051Z" fill="#a5a5a7"/><path d="M608.5,2132.5L605.5,2125L608.5,2127.5L611.5,2125Z" fill="#a5a5a7"/><path d="M165,1511.5L162,1504L165,1506.5L168,1504Z" fill="#8aa394"/><path d="M165,1585L162,1577.5L165,1580L168,1577.5Z" fill="#8aa394"/><path d="M165,1659L162,1651.5L165,1654L168,1651.5Z" fill="#8aa394"/><path d="M165,1733L162,1725.5L165,1728L168,1725.5Z" fill="#8aa394"/><path d="M165,1806L162,1798.5L165,1801L168,1798.5Z" fill="#8aa394"/><path d="M386,1511.5L383,1504L386,1506.5L389,1504Z" fill="#5f8575"/><path d="M386,1585L383,1577.5L386,1580L389,1577.5Z" fill="#5f8575"/><path d="M386,1659L383,1651.5L386,1654L389,1651.5Z" fill="#5f8575"/><path d="M386,1732L383,1724.5L386,1727L389,1724.5Z" fill="#5f8575"/><path d="M165,2072.5L162,2065L165,2067.5L168,2065Z" fill="#5f7686"/><path d="M165,2221L162,2213.5L165,2216L168,2213.5Z" fill="#5f7686"/><path d="M128.5,2184.3L136,2181.3L133.5,2184.3L136,2187.3Z" fill="#5f7686"/><path d="M165,2314L162,2306.5L165,2309L168,2306.5Z" fill="#5f7686"/><path d="M165,2388L162,2380.5L165,2383L168,2380.5Z" fill="#5f7686"/><path d="M165,2537L162,2529.5L165,2532L168,2529.5Z" fill="#5f7686"/><path d="M129,2500L136.5,2497L134,2500L136.5,2503Z" fill="#5f7686"/><path d="M165,2610.5L162,2603L165,2605.5L168,2603Z" fill="#5f7686"/><path d="M165,2684.5L162,2677L165,2679.5L168,2677Z" fill="#5f7686"/><path d="M165,2758L162,2750.5L165,2753L168,2750.5Z" fill="#5f7686"/><path d="M386,2073.5L383,2066L386,2068.5L389,2066Z" fill="#7f8f9d"/><path d="M386,2147.5L383,2140L386,2142.5L389,2140Z" fill="#7f8f9d"/><path d="M386,2221.5L383,2214L386,2216.5L389,2214Z" fill="#7f8f9d"/><path d="M386,2462L383,2454.5L386,2457L389,2454.5Z" fill="#7f8f9d"/><path d="M424.5,2332L417,2335L419.5,2332L417,2329Z" fill="#7f8f9d"/><path d="M387,2415L394.5,2412L392,2415L394.5,2418Z" fill="#7f8f9d"/><path d="M386,2536.5L383,2529L386,2531.5L389,2529Z" fill="#7f8f9d"/><path d="M386,2610.5L383,2603L386,2605.5L389,2603Z" fill="#7f8f9d"/><path d="M386,2684.5L383,2677L386,2679.5L389,2677Z" fill="#7f8f9d"/><path d="M1052,2213.5L1049,2206L1052,2208.5L1055,2206Z" fill="#6f8f80"/><path d="M1052,2398L1049,2390.5L1052,2393L1055,2390.5Z" fill="#6f8f80"/><path d="M1088,2342L1080.5,2345L1083,2342L1080.5,2339Z" fill="#6f8f80"/><path d="M1052,2472.3L1049,2464.8L1052,2467.3L1055,2464.8Z" fill="#6f8f80"/><path d="M1052,2546L1049,2538.5L1052,2541L1055,2538.5Z" fill="#6f8f80"/><path d="M1052,2619.5L1049,2612L1052,2614.5L1055,2612Z" fill="#6f8f80"/><path d="M1052,2758L1049,2750.5L1052,2753L1055,2750.5Z" fill="#6f8f80"/><path d="M1052,2831.5L1049,2824L1052,2826.5L1055,2824Z" fill="#6f8f80"/><path d="M1127.5,2427.6L1135,2424.6L1132.5,2427.6L1135,2430.6Z" fill="#6f8f80"/>
</svg>
<div class="t" style="left:535px;top:148px;width:146px;height:91px;justify-content:center;"><div class="c" style="font-size:12px;line-height:14.8px">Project<br>Sponsor/Applicant</div></div><div class="t" style="left:535px;top:259px;width:146px;height:54px;justify-content:center;"><div class="c" style="font-size:12px;line-height:14.8px">Proposed Project</div></div><div class="t" style="left:535.5px;top:333px;width:145.5px;height:90.5px;justify-content:center;"><div class="c" style="font-size:12px;line-height:14.8px">NEPA Lead<br>Federal Agency</div></div><div class="t" style="left:535px;top:460px;width:147px;height:54px;justify-content:center;"><div class="c" style="font-size:12px;line-height:14.8px">Preliminary scoping:<br>identify purpose and need</div></div><div class="t" style="left:544.6px;top:535px;width:127.4px;height:54px;justify-content:center;"><div class="c" style="font-size:12px;line-height:14.8px">Significant impacts?</div></div><div class="t" style="left:535px;top:657px;width:147px;height:72px;justify-content:center;"><div class="c" style="font-size:12px;line-height:14.8px">Publish Notice of Intent to<br>Prepare an Environmental<br>Impact Statement (EIS)</div></div><div class="t" style="left:535px;top:749.8px;width:147px;height:53.2px;justify-content:center;"><div class="c" style="font-size:12px;line-height:14.8px">Begin scoping</div></div><div class="t" style="left:535px;top:823px;width:147px;height:72.4px;justify-content:center;"><div class="c" style="font-size:12px;line-height:14.8px">Identify Federal, State, local,<br>and Tribal cooperating agencies<br>and invite participation</div></div><div class="t" style="left:535px;top:915.6px;width:147px;height:72.4px;justify-content:center;"><div class="c" style="font-size:12px;line-height:14.8px">Prepare Draft EIS (DEIS):<br>Develop alternatives, impacts,<br>studies, preliminary design</div></div><div class="t" style="left:535px;top:1008px;width:147px;height:72px;justify-content:center;"><div class="c" style="font-size:12px;line-height:14.8px">File with EPA,<br>publish NOA,<br>circulate to Agencies</div></div><div class="t" style="left:535px;top:1100.4px;width:147px;height:72px;justify-content:center;"><div class="c" style="font-size:12px;line-height:14.8px">45-day public comment period<br>and public hearing</div></div><div class="t" style="left:535px;top:1193px;width:147px;height:71.7px;justify-content:center;"><div class="c" style="font-size:12px;line-height:14.8px">Prepare Final EIS (FEIS):<br>respond to comments,<br>select Preferred Alternative</div></div><div class="t" style="left:535px;top:1285.4px;width:147px;height:71.3px;justify-content:center;"><div class="c" style="font-size:12px;line-height:14.8px">File with EPA,<br>publish NOA,<br>circulate to Agencies</div></div><div class="t" style="left:535px;top:1377.3px;width:147px;height:72.2px;justify-content:center;"><div class="c" style="font-size:12px;line-height:14.8px">After 30 days, issue a<br>Record of Decision (ROD)</div></div><div class="t" style="left:757px;top:573px;width:146.5px;height:72px;justify-content:center;"><div class="c" style="font-size:12px;line-height:14.8px">Determination to prepare an<br>Environmental Assessment (EA)</div></div><div class="t" style="left:757px;top:665.6px;width:146.5px;height:53.4px;justify-content:center;"><div class="c" style="font-size:12px;line-height:14.8px">Prepare Draft EA</div></div><div class="t" style="left:757px;top:739px;width:146.5px;height:53px;justify-content:center;"><div class="c" style="font-size:12px;line-height:14.8px">Prepare Final EA</div></div><div class="t" style="left:757px;top:812.8px;width:146.5px;height:53.7px;justify-content:center;"><div class="c" style="font-size:12px;line-height:14.8px">30-day public<br>comment period</div></div><div class="t" style="left:767px;top:886.7px;width:126.8px;height:53.7px;justify-content:center;"><div class="c" style="font-size:12px;line-height:14.8px">Significant impacts?</div></div><div class="t" style="left:757px;top:988.8px;width:146.5px;height:72.2px;justify-content:center;"><div class="c" style="font-size:12px;line-height:14.8px">Prepare a<br>Finding of No Significant<br>Impact (FONSI)</div></div><div class="t" style="left:313.5px;top:425px;width:145.5px;height:91.6px;justify-content:center;"><div class="c" style="font-size:12px;line-height:14.8px">National Historic<br>Preservation Act,<br>Section 106<br>Consultation</div></div><div class="t" style="left:313.2px;top:536px;width:146.6px;height:91px;justify-content:center;"><div class="c" style="font-size:12px;line-height:14.8px">Determine Area of Impact,<br>identify historic properties,<br>evaluate for National Register<br>eligibility, public and local<br>government consultation</div></div><div class="t" style="left:313.2px;top:647px;width:146.6px;height:71px;justify-content:center;"><div class="c" style="font-size:12px;line-height:14.8px">Consult Tribe/THPO if historical<br>property on Tribal land or<br>involves Tribal significance</div></div><div class="t" style="left:323px;top:739.6px;width:126.6px;height:72.1px;justify-content:center;"><div class="c" style="font-size:12px;line-height:14.8px">Does the SHPO/<br>THPO/Tribe concur?</div></div><div class="t" style="left:422.6px;top:831.6px;width:72px;height:54px;justify-content:center;"><div class="c" style="font-size:12px;line-height:14.8px">Resolve<br>objection</div></div><div class="t" style="left:313.2px;top:905.5px;width:146.6px;height:53.5px;justify-content:center;"><div class="c" style="font-size:12px;line-height:14.8px">Assess<br>adverse effects</div></div><div class="t" style="left:323px;top:979px;width:126.6px;height:73px;justify-content:center;"><div class="c" style="font-size:12px;line-height:14.8px">Are there<br>adverse effects?</div></div><div class="t" style="left:277px;top:1071.5px;width:73px;height:72px;justify-content:center;"><div class="c" style="font-size:12px;line-height:14.8px">Process<br>complete with<br>SHPO/THPO<br>concurrence</div></div><div class="t" style="left:313.2px;top:1164px;width:146.6px;height:72px;justify-content:center;"><div class="c" style="font-size:12px;line-height:14.8px">Notify SHPO/THPO with ACHP,<br>resolve adverse effects with<br>project stipulations</div></div><div class="t" style="left:313.2px;top:1256px;width:146.6px;height:72px;justify-content:center;"><div class="c" style="font-size:12px;line-height:14.8px">Executive MOA with ACHP,<br>SHPO/THPO, and<br>other consulting parties</div></div><div class="t" style="left:110px;top:537px;width:109.5px;height:72px;justify-content:center;"><div class="c" style="font-size:12px;line-height:14.8px">Archaeological<br>Resources</div></div><div class="t" style="left:101px;top:629px;width:127px;height:54px;justify-content:center;"><div class="c" style="font-size:12px;line-height:14.8px">On Federal or<br>Tribal land?</div></div><div class="t" style="left:56px;top:703px;width:74px;height:36px;justify-content:center;"><div class="c" style="font-size:12px;line-height:14.8px">End process</div></div><div class="t" style="left:92px;top:759px;width:145.5px;height:52.7px;justify-content:center;"><div class="c" style="font-size:12px;line-height:14.8px">Apply to applicable Federal land<br>managing agency for permit</div></div><div class="t" style="left:91px;top:831.6px;width:147.6px;height:55.1px;justify-content:center;"><div class="c" style="font-size:12px;line-height:14.8px">ARPA Permit Issued</div></div><div class="t" style="left:978px;top:425px;width:146.5px;height:91px;justify-content:center;"><div class="c" style="font-size:12px;line-height:14.8px">Endangered Species Act,<br>Section 7 Consultation</div></div><div class="t" style="left:978px;top:536px;width:146.5px;height:54px;justify-content:center;"><div class="c" style="font-size:12px;line-height:14.8px">Survey and<br>verification of species</div></div><div class="t" style="left:978px;top:610.7px;width:146.5px;height:53.3px;justify-content:center;"><div class="c" style="font-size:12px;line-height:14.8px">Consult FWS/NMFS</div></div><div class="t" style="left:987.7px;top:684.5px;width:127px;height:72.5px;justify-content:center;"><div class="c" style="font-size:12px;line-height:14.8px">Will action<br>affect species?</div></div><div class="t" style="left:1087px;top:776.8px;width:75px;height:55.6px;justify-content:center;"><div class="c" style="font-size:12px;line-height:14.8px">Notify<br>FWS/NMFS</div></div><div class="t" style="left:978px;top:852px;width:146.5px;height:54px;justify-content:center;"><div class="c" style="font-size:12px;line-height:14.8px">Prepare/submit<br>Biological Assessment</div></div><div class="t" style="left:987.7px;top:926.4px;width:127px;height:72.6px;justify-content:center;"><div class="c" style="font-size:12px;line-height:14.8px">Will action adversely<br>affect species?</div></div><div class="t" style="left:1088px;top:1019px;width:73.7px;height:54.3px;justify-content:center;"><div class="c" style="font-size:12px;line-height:14.8px">Informal<br>consultation<br>with FWS/NMFS</div></div><div class="t" style="left:1088.8px;top:1093px;width:72.2px;height:54px;justify-content:center;"><div class="c" style="font-size:12px;line-height:14.8px">Concur?</div></div><div class="t" style="left:1088px;top:1211px;width:73.7px;height:55px;justify-content:center;"><div class="c" style="font-size:12px;line-height:14.8px">Letter of<br>Concurrence</div></div><div class="t" style="left:978px;top:1291.4px;width:146.5px;height:53px;justify-content:center;"><div class="c" style="font-size:12px;line-height:14.8px">Formal consultation with<br>FWS/NMFS (90 days)</div></div><div class="t" style="left:978px;top:1365px;width:146.5px;height:53px;justify-content:center;"><div class="c" style="font-size:12px;line-height:14.8px">FWS/NMFS issue<br>Biological Opinion (45 days)</div></div><div class="t" style="left:988.3px;top:1438.8px;width:126px;height:72px;justify-content:center;"><div class="c" style="font-size:12px;line-height:14.8px">Jeopardy opinion?</div></div><div class="t" style="left:1088px;top:1530.5px;width:74px;height:73.5px;justify-content:center;"><div class="c" style="font-size:12px;line-height:14.8px">&ldquo;Incidental<br>Take&rdquo;<br>Statement<br>with Measures</div></div><div class="t" style="left:977px;top:1622.7px;width:149px;height:54.3px;justify-content:center;"><div class="c" style="font-size:12px;line-height:14.8px">&ldquo;Incidental Take&rdquo; Statement<br>with Alternatives</div></div><div class="t" style="left:756.8px;top:1089px;width:146.2px;height:90px;justify-content:center;"><div class="a" style="font-size:11.3px;line-height:15px;text-align:center">Forest Service<br>Special Use Permit</div></div><div class="t" style="left:757px;top:1200.8px;width:146.5px;height:53.2px;justify-content:center;"><div class="a" style="font-size:10px;line-height:12px;text-align:center">FS analyzes the<br>application and submits<br>additional requests to<br>applicant</div></div><div class="t" style="left:931px;top:1194px;width:72.5px;height:72px;justify-content:center;"><div class="c" style="font-size:12px;line-height:14.8px">Applicant<br>provides<br>additional<br>information</div></div><div class="t" style="left:757px;top:1272.8px;width:146.5px;height:52.9px;justify-content:center;"><div class="a" style="font-size:10.2px;line-height:13px;text-align:center">Applicant conducts<br>studies needed for SUP</div></div><div class="t" style="left:757px;top:1347px;width:146.5px;height:52.6px;justify-content:center;"><div class="a" style="font-size:10.2px;line-height:13px;text-align:center">Public comment and<br>amendments to Resource<br>Management Plan</div></div><div class="t" style="left:757px;top:1415px;width:146.5px;height:54px;justify-content:center;"><div class="a" style="font-size:12.3px;line-height:15px;text-align:center">FS issues Special<br>Use Permit</div></div><div class="t" style="left:756.6px;top:1502.8px;width:147.2px;height:90.9px;justify-content:center;"><div class="a" style="font-size:12.3px;line-height:14.4px;text-align:center">BLM Right-of-<br>Way<br>Authorization</div></div><div class="t" style="left:766.6px;top:1614px;width:127.4px;height:73px;justify-content:center;"><div class="a" style="font-size:12.3px;line-height:15px;text-align:center">Transmission<br>line crossing<br>BLM owned<br>land?</div></div><div class="t" style="left:865.4px;top:1706.8px;width:72.6px;height:54.9px;justify-content:center;"><div class="c" style="font-size:12px;line-height:14.8px">No need for<br>authorization</div></div><div class="t" style="left:757px;top:1777px;width:146.4px;height:71.5px;justify-content:center;"><div class="a" style="font-size:10.2px;line-height:11.8px;text-align:center"><div style='font-size:10.2px;line-height:11.8px;text-align:center'>Submit SF-299:<br>Application for ROW</div><div style='font-size:8.2px;line-height:9.8px;text-align:left;padding-left:3px;margin-top:1.5px'>&gt;60 days in advance submit<br>&nbsp;completed application and Plan<br>&nbsp;of Development</div></div></div><div class="t" style="left:766.4px;top:1870.6px;width:127.6px;height:72.7px;justify-content:center;"><div class="c" style="font-size:12px;line-height:13.8px"><span class='ar' style='font-size:10.2px'>Pre-application<br>Meeting;</span><br>Application/POD<br>complete/sufficient?</div></div><div class="t" style="left:865.8px;top:1966px;width:72.8px;height:71.7px;justify-content:center;"><div class="c" style="font-size:12px;line-height:14.8px">Applicant<br>submits<br>additional<br>information</div></div><div class="t" style="left:757px;top:2057px;width:146.4px;height:72px;justify-content:center;"><div class="a" style="font-size:10.4px;line-height:12.2px;text-align:center">BLM publish notice<br>of &nbsp;application in the<br>FR for &nbsp;public<br>comment (30 days)</div></div><div class="t" style="left:756.6px;top:2148.4px;width:147.7px;height:73.6px;justify-content:center;"><div class="a" style="font-size:12.2px;line-height:15px;text-align:center">BLM approves POD<br>and issues Notice to<br>Proceed with<br>Construction</div></div><div class="t" style="left:536.4px;top:1502.8px;width:145.6px;height:89.2px;justify-content:center;"><div class="a" style="font-size:12.2px;line-height:15px;text-align:center">USFWS Refuge<br>Right-of-Way<br>Authorization/Special<br>Use Permit</div></div><div class="t" style="left:545.8px;top:1616.5px;width:125.7px;height:72.5px;justify-content:center;"><div class="a" style="font-size:12.3px;line-height:14.5px;text-align:center">USFWS/Applicant<br>pre-meeting</div></div><div class="t" style="left:536.6px;top:1834.5px;width:145.4px;height:52.5px;justify-content:center;"><div class="a" style="font-size:12.3px;line-height:14px;text-align:center">Applicant submits<br>application</div></div><div class="t" style="left:536.6px;top:1911px;width:145.4px;height:53px;justify-content:center;"><div class="a" style="font-size:12.2px;line-height:15px;text-align:center">Regional Director<br>asserts that the ROW is<br>of "compatible use"</div></div><div class="t" style="left:536.6px;top:1985px;width:145.4px;height:53px;justify-content:center;"><div class="a" style="font-size:12.3px;line-height:15px;text-align:center">Final easement<br>sent to applicant<br>for approval</div></div><div class="t" style="left:536.6px;top:2059px;width:145.4px;height:52.8px;justify-content:center;"><div class="a" style="font-size:12.3px;line-height:15px;text-align:center">Reimbursement of<br>costs incurred during<br>processing</div></div><div class="t" style="left:535px;top:2133px;width:148px;height:54.8px;justify-content:center;"><div class="a" style="font-size:12.2px;line-height:15px;text-align:center">Grant or deny<br>ROW<br>Easement</div></div><div class="t" style="left:92px;top:1402.4px;width:146.3px;height:90.4px;justify-content:center;"><div class="c" style="font-size:12px;line-height:14.8px">Clean Water Act<br>Section 402<br>National Pollution Discharge<br>Elimination System</div></div><div class="t" style="left:92px;top:1513px;width:146.5px;height:53.8px;justify-content:center;"><div class="c" style="font-size:12px;line-height:14.8px">Develop Stormwater Pollution<br>Prevention Plan</div></div><div class="t" style="left:92px;top:1586.6px;width:146.5px;height:53.4px;justify-content:center;"><div class="c" style="font-size:12px;line-height:14.8px">Submit a Notice of Intent to<br>relevant State/local/tribal<br>authority</div></div><div class="t" style="left:92px;top:1660.6px;width:146.5px;height:53.4px;justify-content:center;"><div class="c" style="font-size:12px;line-height:14.8px">Prepare and submit permit<br>application to relevant authority</div></div><div class="t" style="left:92px;top:1734.5px;width:146.5px;height:53.5px;justify-content:center;"><div class="c" style="font-size:12px;line-height:14.8px">Public comment<br>period (30 days)</div></div><div class="t" style="left:91.5px;top:1807.7px;width:147.5px;height:54.3px;justify-content:center;"><div class="c" style="font-size:12px;line-height:14.8px">Permit issued</div></div><div class="t" style="left:312px;top:1402.4px;width:146.3px;height:90.4px;justify-content:center;"><div class="c" style="font-size:12px;line-height:14.8px">Clean Water Act<br>Section 401<br>Water Quality<br>Certification</div></div><div class="t" style="left:313px;top:1513px;width:146px;height:54px;justify-content:center;"><div class="c" style="font-size:12px;line-height:14.8px">Application to State/Local/Tribal<br>Water Quality Authority</div></div><div class="t" style="left:313px;top:1586.6px;width:146px;height:53.4px;justify-content:center;"><div class="c" style="font-size:12px;line-height:14.8px">Public Notice/Comment</div></div><div class="t" style="left:313px;top:1660.6px;width:146px;height:53.4px;justify-content:center;"><div class="c" style="font-size:12px;line-height:14.8px">Permit Evaluation</div></div><div class="t" style="left:313px;top:1733.7px;width:146px;height:55.3px;justify-content:center;"><div class="c" style="font-size:12px;line-height:14.8px">401 Certification</div></div><div class="t" style="left:92.4px;top:1964.3px;width:145.9px;height:90.1px;justify-content:center;"><div class="a" style="font-size:12.4px;line-height:15px;text-align:center">Section 307<br>Coastal Zone<br>Management Act</div></div><div class="t" style="left:100.8px;top:2074px;width:129px;height:74.3px;justify-content:center;"><div class="c" style="font-size:12px;line-height:14.8px">Activity inside the<br>Coastal Zone?</div></div><div class="t" style="left:55.3px;top:2168px;width:72.3px;height:35px;justify-content:center;"><div class="c" style="font-size:12px;line-height:14.8px">End process</div></div><div class="t" style="left:92px;top:2222.8px;width:146.5px;height:72.8px;justify-content:center;"><div class="c" style="font-size:12px;line-height:14.8px">Prepare and Submit Consistency<br>Certification to relevant State/<br>Tribal authority</div></div><div class="t" style="left:92px;top:2315.7px;width:146.5px;height:53.3px;justify-content:center;"><div class="c" style="font-size:12px;line-height:14.8px">Public Notice and Comment<br>Period</div></div><div class="t" style="left:100.8px;top:2389.4px;width:129px;height:72.6px;justify-content:center;"><div class="c" style="font-size:12px;line-height:14.8px">Consistency<br>Determination?</div></div><div class="t" style="left:55.3px;top:2482px;width:72.7px;height:36.4px;justify-content:center;"><div class="c" style="font-size:12px;line-height:14.8px">Concur</div></div><div class="t" style="left:92px;top:2538.5px;width:146.5px;height:54px;justify-content:center;"><div class="c" style="font-size:12px;line-height:14.8px">Nonconcur</div></div><div class="t" style="left:92px;top:2612px;width:146.5px;height:54px;justify-content:center;"><div class="c" style="font-size:12px;line-height:14.8px">Appeal to Secretary of Commerce</div></div><div class="t" style="left:92px;top:2686px;width:146.5px;height:53.7px;justify-content:center;"><div class="c" style="font-size:12px;line-height:14.8px">Public Notice and Comment</div></div><div class="t" style="left:91.3px;top:2759.8px;width:148.3px;height:55.2px;justify-content:center;"><div class="c" style="font-size:12px;line-height:14.8px">Public Notice of Decision</div></div><div class="t" style="left:313.3px;top:1965px;width:145.4px;height:90px;justify-content:center;"><div class="c" style="font-size:12px;line-height:14.8px">Rivers and<br>Harbors Act<br>Section 10/Clean Water Act<br>Section 404</div></div><div class="t" style="left:313.3px;top:2075px;width:146.4px;height:54px;justify-content:center;"><div class="c" style="font-size:12px;line-height:14.8px">Jurisdictional determination<br>and rapid assessment</div></div><div class="t" style="left:313.3px;top:2149.2px;width:146.4px;height:54.8px;justify-content:center;"><div class="c" style="font-size:12px;line-height:14.8px">Complete application to USACE</div></div><div class="t" style="left:322.7px;top:2223px;width:127.6px;height:55px;justify-content:center;"><div class="c" style="font-size:12px;line-height:14.8px">Nationwide or<br>Regional Permit?</div></div><div class="t" style="left:425.4px;top:2298.8px;width:72.6px;height:72.7px;justify-content:center;"><div class="c" style="font-size:12px;line-height:14.8px">Pre-<br>Construction<br>Notification<br>(45 days)</div></div><div class="t" style="left:424.5px;top:2392.6px;width:72.5px;height:53px;justify-content:center;"><div class="c" style="font-size:12px;line-height:14.8px">Agency<br>consultation</div></div><div class="t" style="left:313.3px;top:2463.5px;width:146.4px;height:54.9px;justify-content:center;"><div class="c" style="font-size:12px;line-height:14.8px">Individual permit<br>(120 days)</div></div><div class="t" style="left:313.3px;top:2538px;width:146.4px;height:54.5px;justify-content:center;"><div class="c" style="font-size:12px;line-height:14.8px">Public Notice<br>(30-day comment period)</div></div><div class="t" style="left:313.3px;top:2612px;width:146.4px;height:55px;justify-content:center;"><div class="c" style="font-size:12px;line-height:14.8px">Public interest review/<br>permit evaluation</div></div><div class="t" style="left:313.3px;top:2686px;width:146.4px;height:56.5px;justify-content:center;"><div class="c" style="font-size:12px;line-height:14.8px">Permit issued</div></div><div class="t" style="left:978.5px;top:2103.5px;width:147.3px;height:91.3px;justify-content:center;"><div class="a" style="font-size:12.3px;line-height:14px;text-align:center">Aeronautical Study<br>Determination</div></div><div class="t" style="left:987.7px;top:2217px;width:127.9px;height:73.5px;justify-content:center;"><div class="a" style="font-size:11.3px;line-height:13.6px;text-align:center">Are the<br>structures under<br>200' AGL and in<br>a low traffic<br>area?</div></div><div class="t" style="left:1088.8px;top:2306px;width:73.8px;height:73.7px;justify-content:center;"><div class="a" style="font-size:10.2px;line-height:12px;text-align:center">Obtain "no<br>hazard"<br>determination</div></div><div class="t" style="left:978.5px;top:2401.2px;width:147.3px;height:54.2px;justify-content:center;"><div class="a" style="font-size:12.3px;line-height:15px;text-align:center">Applicant e-files<br>proposed construction<br>notice to FAA</div></div><div class="t" style="left:978.5px;top:2472.8px;width:147.3px;height:53.8px;justify-content:center;"><div class="a" style="font-size:12.3px;line-height:15px;text-align:center">FAA examines notice<br>and provides comments<br>or recommendations</div></div><div class="t" style="left:978.5px;top:2545px;width:147.3px;height:55px;justify-content:flex-start;padding-left:7.6px;box-sizing:border-box;"><div class="a" style="font-size:12.3px;line-height:15px;text-align:left">FAA provides<br>comments<br>to federal stakeholders</div></div><div class="t" style="left:988.3px;top:2620px;width:127.7px;height:73.7px;justify-content:center;"><div class="a" style="font-size:12.4px;line-height:15px;text-align:center">Federal<br>stakeholder<br>sign off</div></div><div class="t" style="left:978.5px;top:2761.5px;width:147.3px;height:54.7px;justify-content:center;"><div class="a" style="font-size:10.2px;line-height:13.7px;text-align:center">FAA provides final<br>comments based on other<br>federal agency comments</div></div><div class="t" style="left:978.5px;top:2832px;width:147.3px;height:55px;justify-content:center;"><div class="a" style="font-size:12.4px;line-height:15.8px;text-align:center">FAA and applicant<br>agree on final lighting<br>requirements</div></div>
<div id="foot">This flowchart shows required Federal permits/approvals that are included on the Permitting Dashboard.<br>This does not include state and local permits/approvals; however, the administration of some<br>Federal laws represented in this flowchart is delegated to state and/or local governments.</div>
</body></html>
